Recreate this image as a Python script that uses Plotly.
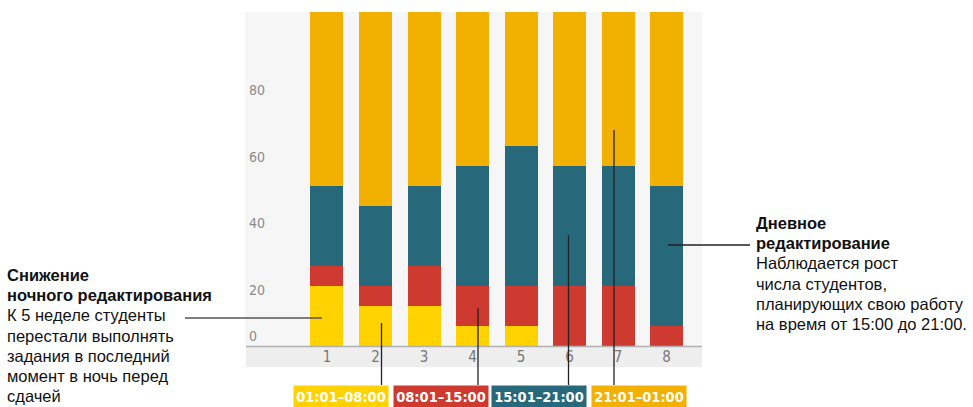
import plotly.graph_objects as go

weeks = ["1", "2", "3", "4", "5", "6", "7", "8"]
s_0101_0800 = [18, 12, 12, 6, 6, 0, 0, 0]
s_0801_1500 = [6, 6, 12, 12, 12, 18, 18, 6]
s_1501_2100 = [24, 24, 24, 36, 42, 36, 36, 42]
s_2101_0100 = [52, 58, 52, 46, 40, 46, 46, 52]
series_names = ["01:01–08:00", "08:01–15:00", "15:01–21:00", "21:01–01:00"]
series_colors = ["#FFD200", "#CF3A30", "#27697A", "#F2B100"]
y_ticks = [0, 20, 40, 60, 80]

left_title = ["Снижение", "ночного редактирования"]
left_body = ["К 5 неделе студенты", "перестали выполнять", "задания в последний",
             "момент в ночь перед", "сдачей"]
right_title = ["Дневное", "редактирование"]
right_body = ["Наблюдается рост", "числа студентов,", "планирующих свою работу",
              "на время от 15:00 до 21:00."]

W, H = 973, 407
L, R, T, B = 245, 702, 12, 346  # plot area in pixels


def px(X):
    return (X - L) / (R - L)


def py(Y):
    return (B - Y) / (B - T)


fig = go.Figure()
for vals, name, col in zip([s_0101_0800, s_0801_1500, s_1501_2100, s_2101_0100],
                           series_names, series_colors):
    fig.add_trace(go.Bar(x=list(range(len(weeks))), y=vals, name=name,
                         marker=dict(color=col, line=dict(width=0)),
                         hoverinfo="skip"))

narrow = "DejaVu Sans Condensed, Liberation Sans Narrow, Arial Narrow, sans-serif"
text_font = "Liberation Sans, Arial, sans-serif"

annotations = []
# y tick labels (drawn slightly below their gridline positions, as in the original)
for v in y_ticks:
    annotations.append(dict(xref="paper", yref="y", x=0, y=v, xanchor="left",
                            yanchor="middle", xshift=2,
                            yshift=(10 if v == 0 else -11),
                            text=str(v), showarrow=False,
                            font=dict(family=narrow, size=14, color="#8a8a8a")))

# legend boxes
box_centers = [341, 440.5, 539, 638.5]
for name, col, cx in zip(series_names, series_colors, box_centers):
    annotations.append(dict(xref="paper", yref="paper", x=px(cx), y=py(396),
                            xanchor="center", yanchor="middle", text="<b>" + name + "</b>",
                            showarrow=False, bgcolor=col, width=94, height=21,
                            borderpad=0,
                            font=dict(family=narrow, size=14.5, color="#ffffff")))

# left text block
lines_left = [("<b>%s</b>" % t) for t in left_title] + left_body
for i, t in enumerate(lines_left):
    annotations.append(dict(xref="paper", yref="paper", x=px(6), y=py(275 + i * 20.2),
                            xanchor="left", yanchor="middle", text=t, showarrow=False,
                            borderpad=0,
                            font=dict(family=text_font, size=16.5, color="#111111")))
# right text block
lines_right = [("<b>%s</b>" % t) for t in right_title] + right_body
for i, t in enumerate(lines_right):
    annotations.append(dict(xref="paper", yref="paper", x=px(755), y=py(223 + i * 20.2),
                            xanchor="left", yanchor="middle", text=t, showarrow=False,
                            borderpad=0,
                            font=dict(family=text_font, size=16.5, color="#111111")))

shapes = [
    # x-axis band
    dict(type="rect", xref="paper", yref="paper", x0=px(246), x1=1, y0=py(367), y1=0,
         fillcolor="#eeeeee", line=dict(width=0), layer="below"),
    dict(type="line", xref="paper", yref="paper", x0=px(246), x1=1, y0=py(346.5), y1=py(346.5),
         line=dict(color="#b0b0b0", width=1.5)),
]
leaders = [
    ((185, 318), (322, 318), "#555555"),
    ((381.5, 385), (381.5, 323), "#222222"),
    ((478, 385), (478, 308), "#222222"),
    ((568.5, 385), (568.5, 235), "#222222"),
    ((614, 385), (614, 130), "#222222"),
    ((668, 245), (750, 245), "#222222"),
]
for (x0, y0), (x1, y1), c in leaders:
    shapes.append(dict(type="line", xref="paper", yref="paper", x0=px(x0), y0=py(y0),
                       x1=px(x1), y1=py(y1), line=dict(color=c, width=1.3)))

fig.update_layout(
    width=W, height=H, barmode="stack", bargap=0.32,
    margin=dict(l=L, r=W - R, t=T, b=H - B, pad=0),
    paper_bgcolor="#ffffff", plot_bgcolor="#f6f6f6",
    showlegend=False,
    xaxis=dict(range=[-1.69, 7.73], tickvals=list(range(len(weeks))), ticktext=weeks,
               showgrid=False, zeroline=False, showline=False, ticks="",
               tickfont=dict(family=narrow, size=15, color="#777777"), fixedrange=True),
    yaxis=dict(range=[0, 100], showgrid=False, zeroline=False, showline=False,
               showticklabels=False, ticks="", fixedrange=True),
    annotations=annotations, shapes=shapes,
)

fig.write_html("out.html", config={"displayModeBar": False},
               post_script="document.body.style.margin='0';document.body.style.overflow='hidden';")
